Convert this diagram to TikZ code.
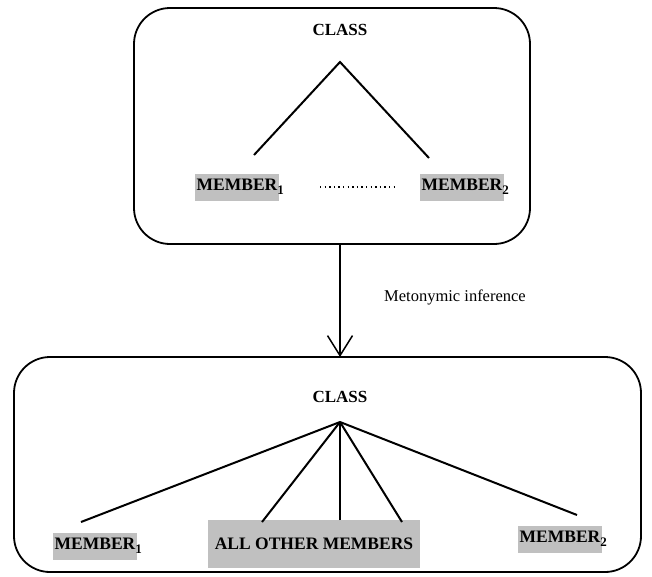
\documentclass[tikz,border=0pt]{standalone}
\usepackage{fontspec}
\setmainfont{Liberation Serif}
\usetikzlibrary{arrows.meta}
\definecolor{hlgray}{RGB}{192,192,192}
% subscript index placed after a highlighted word
\newcommand{\subidx}[1]{\rlap{\raisebox{-4.5pt}{\fontsize{13}{13}\selectfont #1}}}
\tikzset{
  frame/.style={draw, line width=1.8pt, rounded corners=36pt},
  branch/.style={line width=2pt},
  title/.style={font=\fontsize{17}{20}\selectfont\bfseries, inner sep=0pt},
  member/.style={fill=hlgray, font=\fontsize{17.5}{20}\selectfont\bfseries,
    inner xsep=2pt, inner ysep=0pt, minimum height=27pt},
  caption/.style={font=\fontsize{16.5}{20}\selectfont, inner sep=0pt, anchor=west},
}
\begin{document}
\begin{tikzpicture}[x=1pt,y=-1pt]
  \useasboundingbox (0,0) rectangle (652,576);

  % upper frame: class with two members
  \draw[frame] (134,8) rectangle (530,244);
  \node[title] (c1) at (340,30) {CLASS};
  \coordinate (a1) at (340,62);
  \node[member] (m1) at (237,187) {MEMBER\subidx{1}};
  \node[member] (m2) at (462,187) {MEMBER\subidx{2}};
  \coordinate (b1) at (254,155);
  \coordinate (b2) at (429,158);
  \draw[branch] (b1) -- (a1) -- (b2);
  \coordinate (d1) at (320,187);
  \coordinate (d2) at (398,187);
  \draw[line width=1.4pt, dash pattern=on 1.4pt off 3.2pt] (d1) -- (d2);

  % inference arrow
  \coordinate (t1) at (340,244);
  \coordinate (t2) at (340,357);
  \draw[line width=1.5pt, -{Straight Barb[length=20pt,width=25pt,line width=1.5pt]}] (t1) -- (t2);
  \node[caption] (lbl) at (384,297) {Metonymic inference};

  % lower frame: class with all its members
  \draw[frame] (14,357) rectangle (641,572);
  \node[title] (c2) at (340,397) {CLASS};
  \coordinate (a2) at (340,422);
  \node[member] (n1) at (95,546) {MEMBER\subidx{1}};
  \node[member] (n2) at (560,539) {MEMBER\subidx{2}};
  \node[member, minimum width=212pt, minimum height=48pt] (rest) at (314,544) {ALL OTHER MEMBERS};
  \coordinate (e1) at (81,522);
  \coordinate (e2) at (262,522);
  \coordinate (e3) at (340,520);
  \coordinate (e4) at (402,522);
  \coordinate (e5) at (577,515);
  \draw[branch] (e1) -- (a2);
  \draw[branch] (e2) -- (a2);
  \draw[line width=1.3pt] (e3) -- (a2);
  \draw[branch] (e4) -- (a2);
  \draw[branch] (e5) -- (a2);
\end{tikzpicture}
\end{document}
